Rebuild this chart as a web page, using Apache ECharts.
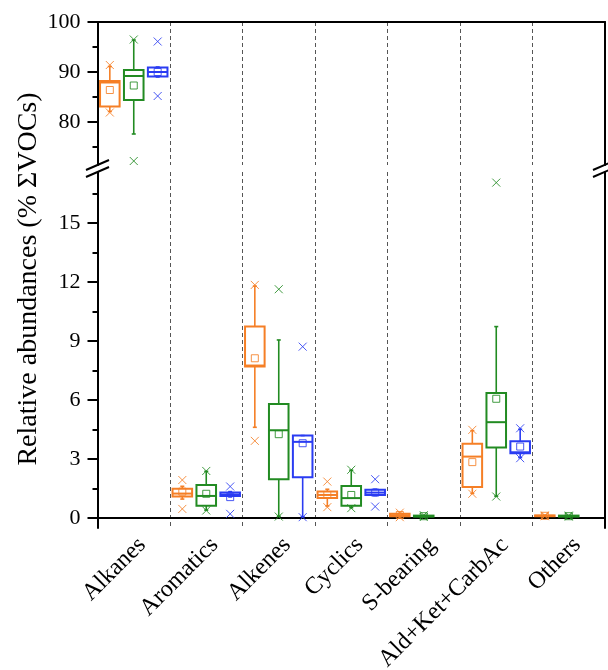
<!DOCTYPE html>
<html><head><meta charset="utf-8">
<script src="https://cdn.jsdelivr.net/npm/echarts@6/dist/echarts.min.js"></script>
<style>html,body{margin:0;padding:0;background:#fff}#c{width:608px;height:670px}</style>
</head><body><div id="c"></div>
<script>
// ---- data ----
const categories = ['Alkanes','Aromatics','Alkenes','Cyclics','S-bearing','Ald+Ket+CarbAc','Others'];
// columns: [min marker, whisker low, Q1, median, Q3, whisker high, max marker, mean]
const orangeStats = [
  [81.9, 82.1, 83.1, 87.9, 88.2, 91.1, 91.4, 86.4],
  [0.47, 0.97, 1.10, 1.25, 1.49, 1.62, 1.94, 1.35],
  [3.93, 4.62, 7.71, 7.76, 9.74, 11.8, 11.86, 8.13],
  [0.56, 0.62, 1.02, 1.18, 1.35, 1.47, 1.86, 1.18],
  [0.05, 0.07, 0.10, 0.15, 0.22, 0.25, 0.28, 0.16],
  [1.24, 1.26, 1.58, 3.13, 3.78, 4.45, 4.49, 2.85],
  [0.10, 0.10, 0.10, 0.12, 0.14, 0.14, 0.14, 0.12]
];
const greenStats = [
  [72.2, 77.6, 84.4, 89.2, 90.4, 96.4, 96.5, 87.3],
  [0.39, 0.41, 0.63, 1.13, 1.69, 2.38, 2.40, 1.24],
  [0.08, 0.10, 1.98, 4.47, 5.81, 9.06, 11.64, 4.27],
  [0.51, 0.53, 0.63, 1.02, 1.64, 2.44, 2.46, 1.18],
  [0.06, 0.07, 0.08, 0.10, 0.13, 0.14, 0.15, 0.10],
  [1.10, 1.12, 3.59, 4.88, 6.36, 9.74, 17.06, 6.07],
  [0.08, 0.08, 0.08, 0.10, 0.13, 0.13, 0.13, 0.10]
];
const blueStats = [
  [85.2, 89.0, 89.1, 90.0, 90.9, 91.0, 96.1, 90.0],
  [0.22, 1.08, 1.13, 1.20, 1.30, 1.35, 1.61, 1.07],
  [0.05, 0.07, 2.08, 3.88, 4.20, 4.20, 8.72, 3.81],
  [0.59, 1.15, 1.18, 1.30, 1.44, 1.47, 1.98, 1.30],
  null,
  [3.05, 3.08, 3.30, 3.35, 3.91, 4.52, 4.57, 3.64],
  null
];
const upperTicks = [80, 90, 100];
const upperMinor = [75, 85, 95];
const lowerTicks = [0, 3, 6, 9, 12, 15];
const lowerMinor = [1.5, 4.5, 7.5, 10.5, 13.5, 16.5];
const yTitle = 'Relative abundances (% \u03A3VOCs)';

// ---- drawing ----
const groups = [
  {stats: orangeStats, color: '#F57F26', off: -0.33},
  {stats: greenStats, color: '#228B22', off: 0},
  {stats: blueStats, color: '#2A3CF2', off: 0.33}
];
const FONT = '"Liberation Serif","Times New Roman",serif';

function makeRender(color, off) {
  return function (params, api) {
    const cat = api.value(0);
    const band = api.size([1, 0])[0];
    const cx = api.coord([cat, api.value(4)])[0] + off * band;
    const bw = band * 0.27;
    const Y = i => api.coord([cat, api.value(i)])[1];
    const yMin = Y(1), yWl = Y(2), yQ1 = Y(3), yMed = Y(4), yQ3 = Y(5), yWh = Y(6), yMax = Y(7), yMean = Y(8);
    const ln = (x1, y1, x2, y2, w, op) => ({type: 'line', shape: {x1, y1, x2, y2},
      style: {stroke: color, lineWidth: w, opacity: op == null ? 1 : op}});
    const cross = (y) => {
      const s = 4;
      return [ln(cx - s, y - s, cx + s, y + s, 1, 0.85), ln(cx - s, y + s, cx + s, y - s, 1, 0.85)];
    };
    const ch = [];
    ch.push(ln(cx, yQ3, cx, yWh, 1.6));
    ch.push(ln(cx, yQ1, cx, yWl, 1.6));
    ch.push(ln(cx - 2, yWh, cx + 2, yWh, 1.6));
    ch.push(ln(cx - 2, yWl, cx + 2, yWl, 1.6));
    ch.push({type: 'rect', shape: {x: cx - bw / 2, y: yQ3, width: bw, height: Math.max(yQ1 - yQ3, 0.5)},
      style: {fill: 'none', stroke: color, lineWidth: 2}});
    ch.push(ln(cx - bw / 2, yMed, cx + bw / 2, yMed, 2));
    ch.push({type: 'rect', shape: {x: cx - 3.5, y: yMean - 3.5, width: 7, height: 7},
      style: {fill: 'none', stroke: color, lineWidth: 1, opacity: 0.85}});
    ch.push(...cross(yMin), ...cross(yMax));
    return {type: 'group', children: ch};
  };
}

const series = [];
groups.forEach((g, gi) => {
  const data = [];
  g.stats.forEach((row, i) => { if (row) data.push([i].concat(row)); });
  [0, 1].forEach(k => {
    series.push({
      type: 'custom', name: 'S' + gi + '_' + k,
      xAxisIndex: k, yAxisIndex: k * 3, clip: true,
      encode: {x: 0, y: [1, 2, 3, 4, 5, 6, 7, 8]},
      data: data, renderItem: makeRender(g.color, g.off), z: 5
    });
  });
});

function valueAxes(gridIndex, min, max, ticks, minor) {
  return [
    {type: 'value', gridIndex, min, max, position: 'left',
      axisLine: {show: true, lineStyle: {color: '#000', width: 2}},
      axisTick: {show: true, inside: false, length: 10, customValues: ticks, lineStyle: {color: '#000', width: 2}},
      axisLabel: {show: true, customValues: ticks, margin: 17, color: '#000', fontSize: 22, fontFamily: FONT},
      splitLine: {show: false}},
    {type: 'value', gridIndex, min, max, position: 'left',
      axisLine: {show: false},
      axisTick: {show: true, inside: false, length: 5, customValues: minor, lineStyle: {color: '#000', width: 2}},
      axisLabel: {show: false}, splitLine: {show: false}},
    {type: 'value', gridIndex, min, max, position: 'right',
      axisLine: {show: true, lineStyle: {color: '#000', width: 2}},
      axisTick: {show: false}, axisLabel: {show: false}, splitLine: {show: false}}
  ];
}

const splitDash = {show: true, interval: 0, lineStyle: {color: '#555', width: 1, type: [4, 3]}};

const option = {
  animation: false,
  backgroundColor: '#fff',
  grid: [
    {left: 97.5, right: 3, top: 22, height: 143, outerBoundsMode: 'none', containLabel: false},
    {left: 97.5, right: 3, top: 172, height: 356, outerBoundsMode: 'none', containLabel: false}
  ],
  xAxis: [
    {type: 'category', gridIndex: 0, data: categories, position: 'top', boundaryGap: true,
      axisLine: {show: true, lineStyle: {color: '#000', width: 2}},
      axisTick: {show: false}, axisLabel: {show: false, interval: 0}, splitLine: splitDash},
    {type: 'category', gridIndex: 1, data: categories, position: 'bottom', boundaryGap: true,
      axisLine: {show: true, lineStyle: {color: '#000', width: 2}},
      axisTick: {show: false},
      axisLabel: {show: true, interval: 0, rotate: 45, margin: 5, verticalAlign: 'top',
        color: '#000', fontSize: 24, fontFamily: FONT},
      splitLine: splitDash}
  ],
  yAxis: [].concat(
    valueAxes(0, 71.4, 100, upperTicks, upperMinor),
    valueAxes(1, -0.5, 17.6, lowerTicks, lowerMinor)
  ),
  series: series,
  graphic: [
    {type: 'text', x: 29, y: 279, rotation: Math.PI / 2,
      style: {text: yTitle, font: '28px ' + FONT, fill: '#000', textAlign: 'center', textVerticalAlign: 'middle'}},
    {type: 'line', shape: {x1: 86, y1: 170, x2: 109, y2: 160}, style: {stroke: '#000', lineWidth: 2}},
    {type: 'line', shape: {x1: 86, y1: 177, x2: 109, y2: 167}, style: {stroke: '#000', lineWidth: 2}},
    {type: 'line', shape: {x1: 593, y1: 170, x2: 616, y2: 160}, style: {stroke: '#000', lineWidth: 2}},
    {type: 'line', shape: {x1: 593, y1: 177, x2: 616, y2: 167}, style: {stroke: '#000', lineWidth: 2}}
  ]
};

const chart = echarts.init(document.getElementById('c'), null, {renderer: 'canvas'});
chart.setOption(option);
</script>
</body></html>
